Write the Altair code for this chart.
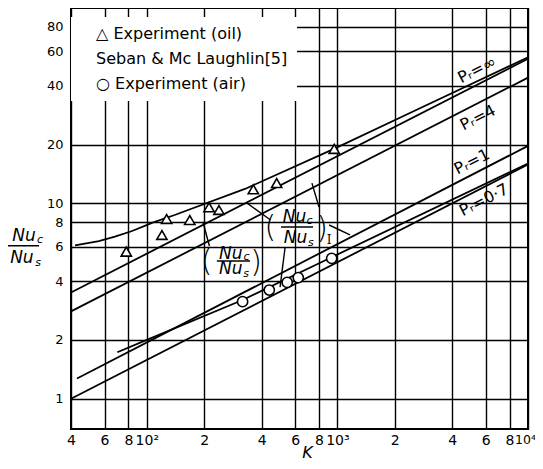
import altair as alt
import pandas as pd

# ---------------- data ----------------
oil_K = [78, 120, 127, 168, 212, 239, 362, 480, 962]
oil_ratio = [5.66, 6.89, 8.32, 8.22, 9.55, 9.25, 11.8, 12.7, 19.0]
air_K = [318, 439, 545, 623, 933]
air_ratio = [3.14, 3.60, 3.94, 4.17, 5.23]

seban_K = [42, 56, 68, 83, 102, 110]
seban_ratio = [6.1, 6.4, 6.75, 7.2, 7.8, 8.05]
pr_inf_K = [40, 10000]
pr_inf_ratio = [3.5, 55]
pr_inf_I_K = [110, 140, 327, 959, 2400, 10000]
pr_inf_I_ratio = [8.05, 8.72, 11.85, 19.0, 29.0, 56.0]
pr4_K = [40, 10000]
pr4_ratio = [2.8, 44]
pr1_K = [43, 10000]
pr1_ratio = [1.27, 19.7]
pr07_K = [40, 10000]
pr07_ratio = [1.0, 15.8]
pr07_I_K = [70, 100, 318, 933, 10000]
pr07_I_ratio = [1.73, 2.0, 3.2, 5.3, 16.0]

legend_labels = ["△ Experiment (oil)", "Seban & Mc Laughlin[5]", "○ Experiment (air)"]

x_ticks = [40, 60, 80, 100, 200, 400, 600, 800, 1000, 2000, 4000, 6000, 8000, 10000]
x_tick_labels = ["4", "6", "8", "10²", "2", "4", "6", "8", "10³", "2", "4", "6", "8", "10⁴"]
y_ticks = [1, 2, 4, 6, 8, 10, 20, 40, 60, 80]

# annotation texts (data coordinates)
italic_text = ["Nu", "c", "Nu", "s", "Nu", "c", "Nu", "s", "Nu", "c", "Nu", "s"]
italic_K = [22.7, 27.5, 22.1, 26.9, 276, 334, 276, 332, 595, 715, 602, 725]
italic_ratio = [6.81, 6.49, 5.25, 4.95, 5.51, 5.31, 4.61, 4.35, 8.51, 8.12, 6.65, 6.27]
italic_size = [17, 11, 17, 11, 17, 11, 17, 11, 17, 11, 17, 11]

paren_text = ["(", ")", "(", ")"]
paren_K = [206, 374, 445, 830]
paren_ratio = [5.01, 4.95, 7.48, 7.39]

pr_text = ["Pᵣ=∞", "Pᵣ=4", "Pᵣ=1", "Pᵣ=0·7"]
pr_K = [5398, 5464, 5081, 5874]
pr_ratio = [48.2, 27.4, 16.3, 10.4]

roman_text = ["I"]
roman_K = [905]
roman_ratio = [6.49]

# fraction bars and leader lines
seg_K = [18.5, 233, 506, 197, 531, 335, 735, 905]
seg_K2 = [27.2, 348, 745, 213, 500, 446, 800, 1164]
seg_ratio = [6.07, 5.07, 7.57, 8.03, 5.91, 10.04, 12.7, 7.75]
seg_ratio2 = [6.07, 5.07, 7.57, 6.05, 3.73, 8.22, 9.58, 6.89]

# ---------------- tables ----------------
curve_rows = []
for name, ks, rs in [("seban", seban_K, seban_ratio), ("pr_inf", pr_inf_K, pr_inf_ratio),
                     ("pr_inf_I", pr_inf_I_K, pr_inf_I_ratio), ("pr4", pr4_K, pr4_ratio),
                     ("pr1", pr1_K, pr1_ratio), ("pr07", pr07_K, pr07_ratio),
                     ("pr07_I", pr07_I_K, pr07_I_ratio)]:
    for k, r in zip(ks, rs):
        curve_rows.append({"curve": name, "K": k, "ratio": r})
curve_df = pd.DataFrame(curve_rows)

pts_df = pd.DataFrame({
    "K": oil_K + air_K,
    "ratio": oil_ratio + air_ratio,
    "series": [legend_labels[0]] * len(oil_K) + [legend_labels[2]] * len(air_K),
})

italic_df = pd.DataFrame({"K": italic_K, "ratio": italic_ratio, "label": italic_text, "fs": italic_size})
paren_df = pd.DataFrame({"K": paren_K, "ratio": paren_ratio, "label": paren_text})
pr_df = pd.DataFrame({"K": pr_K, "ratio": pr_ratio, "label": pr_text})
roman_df = pd.DataFrame({"K": roman_K, "ratio": roman_ratio, "label": roman_text})
seg_df = pd.DataFrame({"K": seg_K, "K2": seg_K2, "ratio": seg_ratio, "ratio2": seg_ratio2})

# ---------------- scales / axes ----------------
FONT = "DejaVu Sans"
xscale = alt.Scale(type="log", domain=[40, 10000], nice=False)
yscale = alt.Scale(type="log", domain=[0.7, 100], nice=False)

expr = "''"
for v, t in reversed(list(zip(x_ticks, x_tick_labels))):
    expr = f"datum.value == {v} ? '{t}' : ({expr})"

xaxis = alt.Axis(values=x_ticks, labelExpr=expr, title="K", grid=True, gridColor="black",
                 gridWidth=1.4, gridOpacity=1, domain=False, ticks=False, labelFont=FONT,
                 labelFontSize={"condition": {"test": "datum.value == 10000", "value": 12.5},
                                "value": 14},
                 labelOffset={"condition": {"test": "datum.value == 10000", "value": -3},
                              "value": 0},
                 labelPadding=4, labelColor="black", labelOverlap=False,
                 labelFlush=False, labelBound=False, titleFont=FONT, titleFontStyle="italic",
                 titleFontSize=16, titleFontWeight="normal", titleColor="black",
                 titleX=236, titleY=23, titleBaseline="middle", titleAlign="center")

yaxis = alt.Axis(values=y_ticks, format="~g", title=None, grid=True, gridColor="black",
                 gridWidth=1.4, gridOpacity=1, domain=False, ticks=False, labelFont=FONT,
                 labelFontSize=13, labelPadding=8, labelColor="black", labelOverlap=False,
                 labelFlush=False, labelBound=False)


def X(field="K"):
    return alt.X(f"{field}:Q", scale=xscale, axis=xaxis)


def Y(field="ratio"):
    return alt.Y(f"{field}:Q", scale=yscale, axis=yaxis)


lines = alt.Chart(curve_df).mark_line(color="black", strokeWidth=1.8).encode(
    x=X(), y=Y(), detail="curve:N", order="K:Q")

points = alt.Chart(pts_df).mark_point(filled=True, fill="white", stroke="black",
                                      strokeWidth=1.6, size=105, opacity=1).encode(
    x=X(), y=Y(),
    shape=alt.Shape("series:N",
                    scale=alt.Scale(domain=legend_labels, range=["triangle-up", "square", "circle"]),
                    legend=alt.Legend(title=None, orient="none", legendX=0, legendY=9,
                                      fillColor="white", padding=9, labelFont=FONT,
                                      labelFontSize=16, labelColor="black", symbolOpacity=0,
                                      symbolSize=1, symbolStrokeWidth=0, labelOffset=0,
                                      rowPadding=9, labelLimit=400)))

segs = alt.Chart(seg_df).mark_rule(color="black", strokeWidth=1.4).encode(
    x=X(), x2="K2:Q", y=Y(), y2="ratio2:Q")

italics = alt.Chart(italic_df).mark_text(font=FONT, fontStyle="italic", color="black",
                                         baseline="middle", align="center").encode(
    x=X(), y=Y(), text="label:N", size=alt.Size("fs:Q", scale=None))

parens = alt.Chart(paren_df).mark_text(font=FONT, fontSize=30, fontWeight=200, color="black",
                                       baseline="middle", align="center").encode(
    x=X(), y=Y(), text="label:N")

pr_labels = alt.Chart(pr_df).mark_text(font=FONT, fontSize=16, color="black", angle=333,
                                       baseline="middle", align="center").encode(
    x=X(), y=Y(), text="label:N")

roman = alt.Chart(roman_df).mark_text(font="DejaVu Serif", fontSize=12, color="black",
                                      baseline="middle", align="center").encode(
    x=X(), y=Y(), text="label:N")

chart = alt.layer(lines, segs, points, italics, parens, pr_labels, roman).properties(
    width=457, height=421,
    padding={"left": 63, "top": 0, "right": 7, "bottom": 32},
    autosize=alt.AutoSizeParams(type="none"),
    background="white",
).configure_view(stroke="black", strokeWidth=2)

chart.save("out.html", embed_options={"renderer": "svg", "actions": False})
